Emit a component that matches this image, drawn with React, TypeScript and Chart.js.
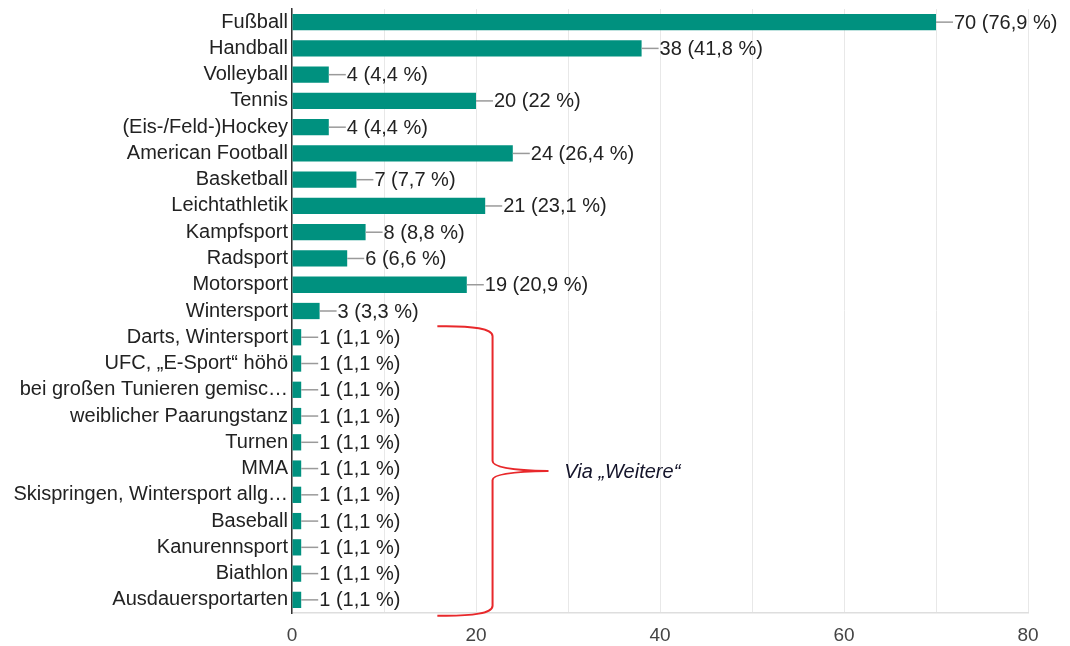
import React, { useEffect, useRef } from "react";
import { Chart, registerables } from "chart.js";

Chart.register(...registerables);

// Sportarten und Anzahl der Nennungen
const categories: string[] = [
  "Fußball",
  "Handball",
  "Volleyball",
  "Tennis",
  "(Eis-/Feld-)Hockey",
  "American Football",
  "Basketball",
  "Leichtathletik",
  "Kampfsport",
  "Radsport",
  "Motorsport",
  "Wintersport",
  "Darts, Wintersport",
  "UFC, „E-Sport“ höhö",
  "bei großen Tunieren gemisc…",
  "weiblicher Paarungstanz",
  "Turnen",
  "MMA",
  "Skispringen, Wintersport allg…",
  "Baseball",
  "Kanurennsport",
  "Biathlon",
  "Ausdauersportarten",
];

const counts: number[] = [70, 38, 4, 20, 4, 24, 7, 21, 8, 6, 19, 3, 1, 1, 1, 1, 1, 1, 1, 1, 1, 1, 1];

const percents: string[] = [
  "76,9", "41,8", "4,4", "22", "4,4", "26,4", "7,7", "23,1", "8,8", "6,6", "20,9", "3,3",
  "1,1", "1,1", "1,1", "1,1", "1,1", "1,1", "1,1", "1,1", "1,1", "1,1", "1,1",
];

const xTicks: number[] = [0, 20, 40, 60, 80];

// Freitext-Antworten, die mit der Klammer zusammengefasst werden
const otherFirst = 12;
const otherLast = 22;
const otherNote = "Via „Weitere“";

const FONT = "'Liberation Sans', Arial, Helvetica, sans-serif";
const BAR_COLOR = "#00917f";

const valueLabels = {
  id: "valueLabels",
  afterDatasetsDraw(chart: any) {
    const ctx = chart.ctx;
    const meta = chart.getDatasetMeta(0);
    ctx.save();
    ctx.font = `20px ${FONT}`;
    ctx.textAlign = "left";
    ctx.textBaseline = "middle";
    meta.data.forEach((bar: any, i: number) => {
      const x = bar.x;
      const y = bar.y;
      ctx.strokeStyle = "#9a9a9a";
      ctx.lineWidth = 1.5;
      ctx.beginPath();
      ctx.moveTo(x, y);
      ctx.lineTo(x + 17, y);
      ctx.stroke();
      ctx.fillStyle = "#222222";
      ctx.fillText(`${counts[i]} (${percents[i]} %)`, x + 18, y + 1);
    });
    ctx.restore();
  },
};

const bracket = {
  id: "bracket",
  afterDraw(chart: any) {
    const ctx = chart.ctx;
    const xs = chart.scales.x;
    const ys = chart.scales.y;
    const pitch = ys.getPixelForValue(1) - ys.getPixelForValue(0);
    const yTop = ys.getPixelForValue(otherFirst) - 0.42 * pitch;
    const yBot = ys.getPixelForValue(otherLast) + 0.6 * pitch;
    const yMid = (yTop + yBot) / 2;
    const xEnd = xs.getPixelForValue(15.8);
    const xSpine = xs.getPixelForValue(21.8);
    const xTip = xs.getPixelForValue(27.8);

    ctx.save();
    ctx.strokeStyle = "#e8282b";
    ctx.lineWidth = 2;
    ctx.lineJoin = "round";
    ctx.beginPath();
    ctx.moveTo(xEnd, yTop);
    ctx.quadraticCurveTo(xSpine, yTop - 1, xSpine, yTop + 10);
    ctx.lineTo(xSpine, yMid - 10);
    ctx.quadraticCurveTo(xSpine, yMid - 1, xTip, yMid);
    ctx.quadraticCurveTo(xSpine, yMid + 1, xSpine, yMid + 9);
    ctx.lineTo(xSpine, yBot - 10);
    ctx.quadraticCurveTo(xSpine, yBot + 1, xEnd, yBot);
    ctx.stroke();

    ctx.font = `italic 20px ${FONT}`;
    ctx.fillStyle = "#14142a";
    ctx.textAlign = "left";
    ctx.textBaseline = "middle";
    ctx.fillText(otherNote, xs.getPixelForValue(29.6), yMid + 2);
    ctx.restore();
  },
};

export default function App() {
  const canvasRef = useRef<HTMLCanvasElement | null>(null);

  useEffect(() => {
    if (!canvasRef.current) return;
    const chart = new Chart(canvasRef.current, {
      type: "bar",
      data: {
        labels: categories,
        datasets: [
          {
            data: counts,
            backgroundColor: BAR_COLOR,
            borderWidth: 0,
            categoryPercentage: 1,
            barPercentage: 0.62,
          },
        ],
      },
      options: {
        indexAxis: "y",
        responsive: false,
        animation: false,
        layout: { padding: { top: 9, right: 42, left: 0, bottom: 0 } },
        plugins: {
          legend: { display: false },
          tooltip: { enabled: false },
        },
        scales: {
          x: {
            min: 0,
            max: 80,
            afterFit: (s: any) => {
              s.height = 33;
            },
            ticks: {
              stepSize: 10,
              autoSkip: false,
              maxRotation: 0,
              padding: 11,
              color: "#444444",
              font: { family: FONT, size: 19 },
              callback: (v: any) => (xTicks.includes(Number(v)) ? String(v) : ""),
            },
            grid: { color: "#e8e8e8", lineWidth: 1, drawTicks: false },
            border: { display: true, color: "#dedede", width: 1.5 },
          },
          y: {
            afterFit: (s: any) => {
              s.width = 292;
              s.paddingTop = 0;
              s.paddingBottom = 0;
            },
            ticks: {
              autoSkip: false,
              padding: 4,
              color: "#222222",
              font: { family: FONT, size: 20 },
            },
            grid: { display: false, drawTicks: false },
            border: { display: true, color: "#333333", width: 1.5 },
          },
        },
      },
      plugins: [valueLabels, bracket],
    });
    return () => chart.destroy();
  }, []);

  return (
    <div style={{ position: "absolute", left: 0, top: 0, width: 1070, height: 646, background: "#ffffff" }}>
      <canvas ref={canvasRef} width={1070} height={646} />
    </div>
  );
}
